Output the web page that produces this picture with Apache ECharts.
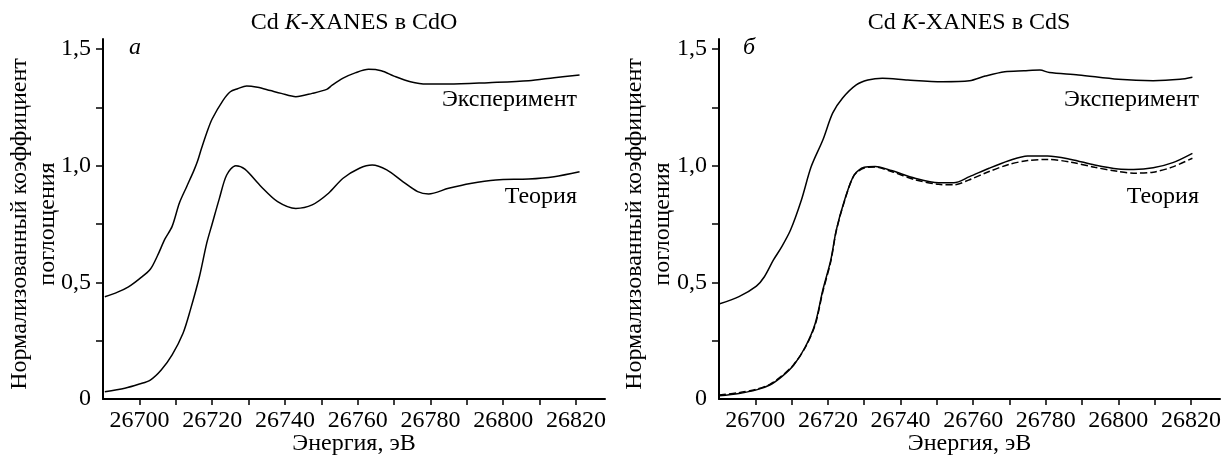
<!DOCTYPE html>
<html>
<head>
<meta charset="utf-8">
<title>Cd K-XANES</title>
<script src="https://cdn.jsdelivr.net/npm/echarts@6.0.0/dist/echarts.min.js"></script>
<style>
  html, body { margin: 0; padding: 0; background: #fff; }
  #chart { width: 1221px; height: 457px; }
</style>
</head>
<body>
<div id="chart"></div>
<script>
// CdO: experiment and theory
var cdoExpE = [26690.5, 26694, 26697, 26700, 26703, 26705, 26707, 26709, 26711, 26713, 26715, 26716, 26717, 26718.5,
    26720, 26723, 26725, 26727, 26729.5, 26732.5, 26736, 26739, 26743, 26747.5, 26751.5, 26753, 26756, 26759.5,
    26763, 26766.5, 26770, 26774.5, 26779, 26785, 26796, 26807, 26814, 26821];
var cdoExpMu = [0.438, 0.458, 0.481, 0.515, 0.556, 0.615, 0.685, 0.74, 0.84, 0.91, 0.98, 1.02, 1.07, 1.14,
    1.20, 1.28, 1.317, 1.33, 1.342, 1.336, 1.322, 1.31, 1.296, 1.31, 1.327, 1.345, 1.375, 1.399,
    1.413, 1.407, 1.384, 1.36, 1.35, 1.35, 1.356, 1.364, 1.377, 1.389];

var cdoTheoE = [26690.5, 26696, 26700, 26703, 26706, 26709, 26712, 26714, 26716.5, 26718.5, 26720, 26722, 26724,
    26726.5, 26729, 26733.5, 26738, 26743, 26747.5, 26752, 26756, 26760.5, 26764, 26768, 26772.5, 26776.5,
    26779.5, 26785, 26791, 26798, 26807, 26814, 26821];
var cdoTheoMu = [0.031, 0.046, 0.064, 0.081, 0.124, 0.189, 0.282, 0.381, 0.524, 0.667, 0.75, 0.86, 0.96,
    1.0, 0.985, 0.91, 0.846, 0.817, 0.832, 0.882, 0.946, 0.989, 1.003, 0.982, 0.931, 0.889,
    0.879, 0.903, 0.924, 0.939, 0.943, 0.953, 0.974];

// CdS: experiment and two theory curves
var cdsExpE = [26690, 26695.5, 26700.3, 26702.5, 26705, 26707.3, 26709.7, 26712.7, 26715.4, 26718.6, 26721.3,
    26724, 26727.8, 26731, 26735, 26742, 26751.5, 26759, 26763.3, 26768.7, 26774, 26778.4, 26781,
    26789, 26800, 26809.6, 26817, 26820.4];
var cdsExpMu = [0.407, 0.439, 0.484, 0.524, 0.596, 0.653, 0.724, 0.853, 0.996, 1.11, 1.225,
    1.289, 1.346, 1.367, 1.375, 1.367, 1.36, 1.364, 1.384, 1.403, 1.407, 1.41, 1.399,
    1.389, 1.37, 1.364, 1.37, 1.379];

var cdsTheoE = [26690, 26695.5, 26700.3, 26704, 26707.3, 26710.6, 26713.8, 26716.5, 26718.6, 26720.8, 26722.3,
    26724.6, 26727.2, 26730, 26733, 26737.5, 26744, 26750.5, 26754.7, 26759, 26764.4, 26769.8, 26775,
    26780.5, 26787, 26793.5, 26800, 26804.2, 26809.6, 26815, 26820.4];
var cdsTheoMu = [0.014, 0.024, 0.039, 0.06, 0.096, 0.146, 0.224, 0.324, 0.467, 0.596, 0.724,
    0.853, 0.96, 0.993, 0.996, 0.979, 0.946, 0.927, 0.927, 0.953, 0.989, 1.021, 1.042,
    1.042, 1.027, 1.003, 0.986, 0.984, 0.991, 1.013, 1.053];
var cdsTheo2Mu = [0.017, 0.027, 0.042, 0.063, 0.099, 0.148, 0.222, 0.318, 0.46, 0.59, 0.72,
    0.85, 0.958, 0.99, 0.994, 0.975, 0.94, 0.92, 0.918, 0.94, 0.975, 1.005, 1.022,
    1.027, 1.015, 0.993, 0.975, 0.968, 0.972, 0.995, 1.032];

var xTicks = [26700, 26710, 26720, 26730, 26740, 26750, 26760, 26770, 26780, 26790, 26800, 26810, 26820];
var xLabels = [26700, 26720, 26740, 26760, 26780, 26800, 26820];
var yTicks = [0.25, 0.5, 0.75, 1.0, 1.25, 1.5];
var yLabels = [0, 0.5, 1.0, 1.5];

var FONT = "'Liberation Serif', 'Times New Roman', serif";
var FS = 24;

function zip(xs, ys) {
    var res = [];
    for (var i = 0; i < xs.length; i++) {
        res.push([xs[i], ys[i]]);
    }
    return res;
}

function xAxisFor(idx) {
    return {
        type: 'value',
        gridIndex: idx,
        min: 26690,
        max: 26828,
        name: 'Энергия, эВ',
        nameLocation: 'middle',
        nameGap: 33,
        nameMoveOverlap: false,
        nameTextStyle: { color: '#000', fontSize: FS, fontFamily: FONT },
        axisLine: { show: true, onZero: false, lineStyle: { color: '#000', width: 2 } },
        axisTick: { show: true, inside: false, length: 6, customValues: xTicks, lineStyle: { color: '#000', width: 1.5 } },
        axisLabel: {
            customValues: xLabels, color: '#000', fontSize: FS, fontFamily: FONT, margin: 10,
            formatter: function (v) { return String(v); }
        },
        splitLine: { show: false }
    };
}

function yAxisFor(idx) {
    return {
        type: 'value',
        gridIndex: idx,
        min: 0,
        max: 1.543,
        axisLine: { show: true, lineStyle: { color: '#000', width: 2 } },
        axisTick: { show: true, inside: false, length: 7, customValues: yTicks, lineStyle: { color: '#000', width: 1.5 } },
        axisLabel: {
            customValues: yLabels,
            color: '#000', fontSize: FS, fontFamily: FONT, margin: 12,
            formatter: function (v) {
                if (v === 0) return '0';
                return v.toFixed(1).replace('.', ',');
            }
        },
        splitLine: { show: false }
    };
}

function line(name, idx, data, dashed) {
    return {
        name: name,
        type: 'line',
        xAxisIndex: idx,
        yAxisIndex: idx,
        data: data,
        showSymbol: false,
        smooth: 0.3,
        lineStyle: { color: '#000', width: 1.5, type: dashed ? [7, 3] : 'solid' },
        silent: true
    };
}

function label(txt, x, y, align, style) {
    var s = { text: txt, x: x, y: y, align: align, verticalAlign: 'middle', fill: '#000', fontSize: FS, fontFamily: FONT };
    for (var k in style) s[k] = style[k];
    return { type: 'text', style: s, silent: true };
}

var chart = echarts.init(document.getElementById('chart'));

option = {
    backgroundColor: '#fff',
    animation: false,
    grid: [
        { left: 103, top: 39, width: 502, height: 360, outerBoundsMode: 'none', containLabel: false },
        { left: 719, top: 39, width: 501, height: 360, outerBoundsMode: 'none', containLabel: false }
    ],
    xAxis: [xAxisFor(0), xAxisFor(1)],
    yAxis: [yAxisFor(0), yAxisFor(1)],
    graphic: [
        label('Cd {i|K}-XANES в CdO', 354, 23, 'center', { rich: { i: { fontStyle: 'italic', fontSize: FS, fontFamily: FONT } } }),
        label('Cd {i|K}-XANES в CdS', 969, 23, 'center', { rich: { i: { fontStyle: 'italic', fontSize: FS, fontFamily: FONT } } }),
        label('a', 135, 48, 'center', { fontStyle: 'italic' }),
        label('б', 749, 48, 'center', { fontStyle: 'italic' }),
        label('Эксперимент', 577, 100, 'right', {}),
        label('Теория', 577, 197, 'right', {}),
        label('Эксперимент', 1199, 100, 'right', {}),
        label('Теория', 1199, 197, 'right', {}),
        {
            type: 'text', x: 34, y: 224, rotation: Math.PI / 2, silent: true,
            style: { text: 'Нормализованный коэффициент\nпоглощения', align: 'center', verticalAlign: 'middle',
                fill: '#000', fontSize: FS, lineHeight: 28, fontFamily: FONT }
        },
        {
            type: 'text', x: 649, y: 224, rotation: Math.PI / 2, silent: true,
            style: { text: 'Нормализованный коэффициент\nпоглощения', align: 'center', verticalAlign: 'middle',
                fill: '#000', fontSize: FS, lineHeight: 28, fontFamily: FONT }
        }
    ],
    series: [
        line('CdO эксперимент', 0, zip(cdoExpE, cdoExpMu), false),
        line('CdO теория', 0, zip(cdoTheoE, cdoTheoMu), false),
        line('CdS эксперимент', 1, zip(cdsExpE, cdsExpMu), false),
        line('CdS теория', 1, zip(cdsTheoE, cdsTheoMu), false),
        line('CdS теория 2', 1, zip(cdsTheoE, cdsTheo2Mu), true)
    ]
};
chart.setOption(option);
</script>
</body>
</html>
